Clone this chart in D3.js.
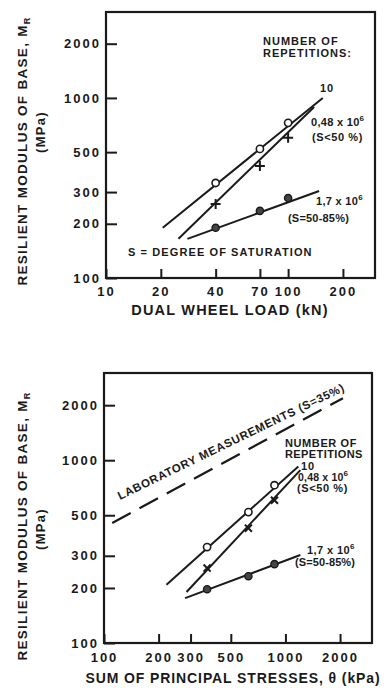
<!DOCTYPE html>
<html lang="en">
<head>
<meta charset="UTF-8">
<title>Resilient modulus of base</title>
<script src="https://d3js.org/d3.v7.min.js"></script>
<style>
  body { margin: 0; background: #fff; }
  svg text { font-family: "Liberation Sans", Arial, sans-serif; font-weight: bold; fill: #1a1a1a; }
</style>
</head>
<body>
<div id="chart"></div>
<script>
// ---- data ----
// top panel : dual wheel load (kN)
const loadPts = [40, 70, 100];
const load10 = [337, 521, 727];        // 10 repetitions (open circles)
const load048 = [258, 419, 600];       // 0,48 x 10^6 (crosses)
const load17 = [190, 236, 278];        // 1,7 x 10^6 (filled circles)
const loadLine10 = [[20.5, 190], [155, 1000]];
const loadLine048 = [[25, 165], [139, 891]];
const loadLine17 = [[28, 165], [148, 304]];
const loadTicks = [10, 20, 40, 70, 100, 200];

// bottom panel : sum of principal stresses (kPa)
const stressPts = [370, 625, 870];
const stress10 = [335, 520, 730];
const stress048 = [257, 425, 604];
const stress17 = [197, 232, 270];
const stressLine10 = [[221, 208], [1178, 925]];
const stressLine048 = [[285, 190], [1208, 882]];
const stressLine17 = [[280, 176], [1208, 303]];
const labLine = [[111, 453], [2075, 2185]];
const stressTicks = [100, 200, 300, 500, 1000, 2000];

const modTicks = [100, 200, 300, 500, 1000, 2000];

const svg = d3.select("#chart").append("svg")
    .attr("width", 390).attr("height", 688);

function panel(opt) {
    const x = d3.scaleLog().domain(opt.xDomain).range([opt.left, opt.left + opt.w]);
    const y = d3.scaleLog().domain([100, 3000]).range([opt.top + opt.h, opt.top]);
    const g = svg.append("g");

    // axes (ticks pointing inside)
    const ax = g.append("g")
        .attr("transform", "translate(0," + (opt.top + opt.h) + ")")
        .call(d3.axisBottom(x).tickValues(opt.xTicks).tickFormat(d3.format("d"))
            .tickSizeInner(-9).tickSizeOuter(0).tickPadding(opt.xPad));
    const ay = g.append("g")
        .attr("transform", "translate(" + opt.left + ",0)")
        .call(d3.axisLeft(y).tickValues(modTicks).tickFormat(d3.format("d"))
            .tickSizeInner(-11).tickSizeOuter(0).tickPadding(7));
    [ax, ay].forEach(a => {
        a.select(".domain").remove();
        a.selectAll("line").attr("stroke", "#1a1a1a").attr("stroke-width", 2);
        a.selectAll("text").style("font-size", "13px").style("letter-spacing", "2px")
            .style("font-family", "'Liberation Sans', Arial, sans-serif").style("font-weight", "bold")
            .attr("fill", "#1a1a1a");
    });
    ay.selectAll("text").attr("dx", "2px");

    g.append("rect")
        .attr("x", opt.left).attr("y", opt.top).attr("width", opt.w).attr("height", opt.h)
        .attr("fill", "none").attr("stroke", "#1a1a1a").attr("stroke-width", 2.2);

    const line = d3.line().x(d => x(d[0])).y(d => y(d[1]));
    [opt.line10, opt.line048, opt.line17].forEach(l => {
        g.append("path").attr("d", line(l))
            .attr("fill", "none").attr("stroke", "#1a1a1a").attr("stroke-width", 2);
    });

    // markers
    const p10 = opt.xs.map((v, i) => [v, opt.s10[i]]);
    const p048 = opt.xs.map((v, i) => [v, opt.s048[i]]);
    const p17 = opt.xs.map((v, i) => [v, opt.s17[i]]);
    g.selectAll(null).data(p10).join("circle")
        .attr("cx", d => x(d[0])).attr("cy", d => y(d[1])).attr("r", 3.6)
        .attr("fill", "#fff").attr("stroke", "#1a1a1a").attr("stroke-width", 1.6);
    g.selectAll(null).data(p17).join("circle")
        .attr("cx", d => x(d[0])).attr("cy", d => y(d[1])).attr("r", 3.6)
        .attr("fill", "#444").attr("stroke", "#1a1a1a").attr("stroke-width", 1.4);
    g.selectAll(null).data(p048).join("path")
        .attr("transform", d => "translate(" + x(d[0]) + "," + y(d[1]) + ") rotate(" + opt.crossRot + ")")
        .attr("d", "M-5,0H5M0,-5V5")
        .attr("stroke", "#1a1a1a").attr("stroke-width", 2);

    return { g, x, y };
}

function label(g, x, y, parts, size, spacing, anchor) {
    const t = g.append("text").attr("x", x).attr("y", y)
        .style("font-size", (size || 11) + "px").style("letter-spacing", (spacing == null ? 1 : spacing) + "px")
        .attr("text-anchor", anchor || "start");
    parts.forEach(p => {
        if (typeof p === "string") t.append("tspan").text(p);
        else t.append("tspan").attr("dy", p.dy).style("font-size", p.size + "px").text(p.t);
    });
    return t;
}

function sci(base) {
    return [base, { t: "6", dy: -5, size: 8 }];
}

function yTitle(g, cx, cy, cy2) {
    const t = g.append("text").attr("transform", "translate(" + cx + "," + cy + ") rotate(-90)")
        .attr("text-anchor", "middle").style("font-size", "13.5px").style("letter-spacing", "1.3px");
    t.append("tspan").text("RESILIENT MODULUS OF BASE, M");
    t.append("tspan").attr("dy", 3).style("font-size", "9px").text("R");
    g.append("text").attr("transform", "translate(" + (cx + 18) + "," + cy2 + ") rotate(-90)")
        .attr("text-anchor", "middle").style("font-size", "13px").style("letter-spacing", "1.3px")
        .text("(MPa)");
}

// ---- top panel ----
const P1 = panel({
    left: 106, top: 12, w: 269, h: 266, xDomain: [10, 300], xTicks: loadTicks, xPad: 9,
    xs: loadPts, s10: load10, s048: load048, s17: load17,
    line10: loadLine10, line048: loadLine048, line17: loadLine17, crossRot: 0
});
label(P1.g, 263, 45, ["NUMBER OF"]);
label(P1.g, 263, 57, ["REPETITIONS:"]);
label(P1.g, 320, 92, ["10"]);
label(P1.g, 311, 126, sci("0,48 x 10"), 11, 0.3);
label(P1.g, 312, 141, ["(S<50 %)"], 11, 0.6);
label(P1.g, 316, 205, sci("1,7 x 10"), 11, 0.3);
label(P1.g, 288, 222, ["(S=50-85%)"], 11, 0.2);
label(P1.g, 128, 256, ["S = DEGREE OF SATURATION"], 11, 1.1);
label(P1.g, 230, 315, ["DUAL WHEEL LOAD (kN)"], 14.5, 1.2, "middle");
yTitle(P1.g, 27, 151, 132);

// ---- bottom panel ----
const P2 = panel({
    left: 104, top: 373, w: 268, h: 270, xDomain: [100, 3000], xTicks: stressTicks, xPad: 10,
    xs: stressPts, s10: stress10, s048: stress048, s17: stress17,
    line10: stressLine10, line048: stressLine048, line17: stressLine17, crossRot: 45
});
P2.g.append("path").attr("d", d3.line().x(d => P2.x(d[0])).y(d => P2.y(d[1]))(labLine))
    .attr("fill", "none").attr("stroke", "#1a1a1a").attr("stroke-width", 2.2)
    .attr("stroke-dasharray", "21,10");
const a0 = [P2.x(labLine[0][0]), P2.y(labLine[0][1])];
const a1 = [P2.x(labLine[1][0]), P2.y(labLine[1][1])];
const ang = Math.atan2(a1[1] - a0[1], a1[0] - a0[0]) * 180 / Math.PI;
P2.g.append("text")
    .attr("transform", "translate(120,500) rotate(" + (ang + 2.5) + ")")
    .attr("textLength", 250).attr("lengthAdjust", "spacing")
    .style("font-size", "11.5px")
    .text("LABORATORY MEASUREMENTS (S=35%)");
label(P2.g, 285, 447, ["NUMBER OF"], 11, 0.6);
label(P2.g, 285, 458, ["REPETITIONS"], 11, 0.4);
label(P2.g, 301, 470, ["10"]);
label(P2.g, 298, 481, sci("0,48 x 10"), 10.5, 0.2);
label(P2.g, 297, 492, ["(S<50 %)"], 11, 0.6);
label(P2.g, 307, 554, sci("1,7 x 10"), 11, 0.4);
label(P2.g, 295, 566, ["(S=50-85%)"], 11, 0.1);
P2.g.append("text").attr("x", 233).attr("y", 683).attr("text-anchor", "middle")
    .style("font-size", "14px").style("letter-spacing", "0.9px")
    .text("SUM OF PRINCIPAL STRESSES, \u03B8 (kPa)");
yTitle(P2.g, 27, 526, 529);
</script>
</body>
</html>
